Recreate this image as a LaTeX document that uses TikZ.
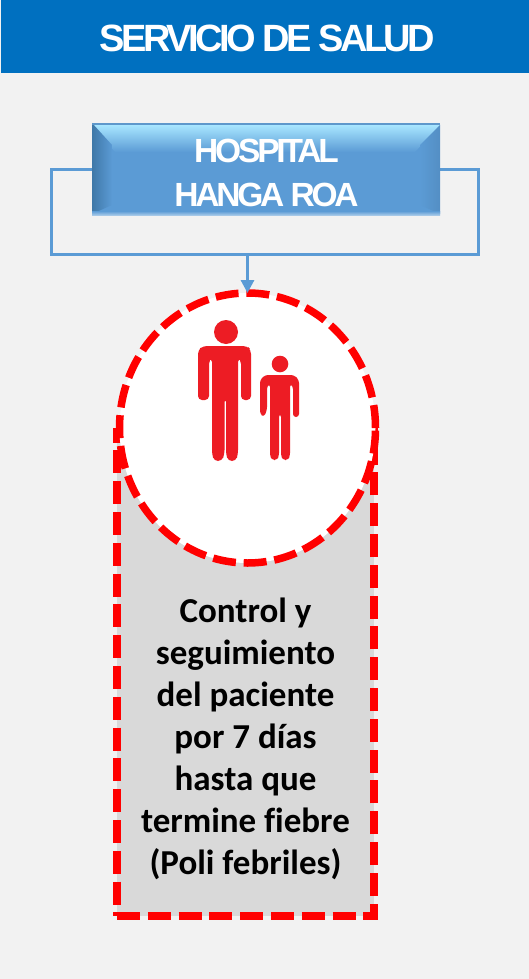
\documentclass[tikz,border=0pt]{standalone}
\usepackage{fontspec}
\setmainfont{Liberation Sans}
\newfontfamily\headfont[LetterSpace=-9.5]{Liberation Sans Bold}
\newfontfamily\bodyfont[Ligatures=NoCommon]{Carlito Bold}
\usetikzlibrary{shapes.geometric,arrows.meta}
\definecolor{pagebg}{HTML}{F2F2F2}
\definecolor{headblue}{HTML}{0070C0}
\definecolor{linkblue}{HTML}{5B9BD5}
\definecolor{bevellight}{HTML}{A8E6FF}
\definecolor{beveldark}{HTML}{3F78A8}
\definecolor{boxgray}{HTML}{D9D9D9}
\definecolor{figred}{HTML}{ED1C24}
\tikzset{
  redline/.style={draw=red,line width=7.5pt,dash pattern=on 23pt off 7.8pt,outer sep=0pt},
  linkline/.style={draw=linkblue,line width=3pt},
  figure/.style={fill=figred,draw=none},
  headtext/.style={text=white,align=center,inner sep=0pt}
}
\begin{document}
\begin{tikzpicture}[x=1pt,y=-1pt]
\useasboundingbox (0,0) rectangle (529,979);
\fill[pagebg] (0,0) rectangle (529,979);
\node[fill=headblue,minimum width=528pt,minimum height=73pt,inner sep=0pt,outer sep=0pt,anchor=north west] (header) at (1,0) {};
\node[headtext,font=\headfont\fontsize{38}{38}\selectfont] (headertext) at (267.5,38) {SERVICIO DE SALUD};

% connector frame
\node[minimum width=348pt,minimum height=91pt,inner sep=0pt,outer sep=0pt] (hosp) at (266,169.5) {};
\coordinate (fl) at (51,254);
\coordinate (fr) at (478.5,254);
\coordinate (fm) at (247.5,254);
\draw[linkline] (hosp.west) -| (fl) -- (fr) |- (hosp.east);

% bevelled box
\fill[linkblue] (92,123) rectangle (440,214);
\shade[top color=bevellight,bottom color=linkblue] (92,125) -- (440,125) -- (415,152) -- (115,152) -- cycle;
\shade[left color=beveldark,right color=linkblue] (92,123) -- (112,145) -- (112,205) -- (92,214) -- cycle;
\shade[left color=linkblue,right color=linkblue!92!black] (420,145) -- (440,125) -- (440,214) -- (420,205) -- cycle;
\shade[top color=linkblue,bottom color=linkblue!55!white] (92,211) rectangle (440,215);
\fill[linkblue!88!gray] (92,123) rectangle (440,125);
\node[headtext,font=\headfont\fontsize{33.5}{44}\selectfont] (hosptext) at (266.5,172.5) {HOSPITAL\\HANGA ROA};

% gray box and circle
\node[fill=boxgray,redline,minimum width=257pt,minimum height=484pt,inner sep=0pt,anchor=north west] (box) at (117,432) {};
\node[ellipse,fill=white,redline,minimum width=256pt,minimum height=270pt,inner sep=0pt] (circ) at (247.5,428) {};
\draw[linkline,-{Triangle[length=13pt,width=13pt]}] (fm) -- (circ.north);

% adult figure
\fill[figure] (226,332) circle (12);
\fill[figure,rounded corners=4pt] (198,400) -- (198,350) -- (203,346) -- (247,346) -- (251,350) -- (251,400) -- (241,400) -- (241,360) -- (238,358) -- (238,454) -- (236,461) -- (228,461) -- (226,454) -- (226,398) -- (224.5,398) -- (224.5,454) -- (222,461) -- (214,461) -- (212,454) -- (212,358) -- (209,360) -- (209,400) -- cycle;
% child figure
\fill[figure] (280,364) circle (8.3);
\fill[figure,rounded corners=3pt] (260,414) -- (260,380) -- (265,375) -- (294,375) -- (299,380) -- (299,417) -- (293,417) -- (293,386) -- (290,384) -- (290,456) -- (288,460) -- (283,460) -- (281,456) -- (281,414) -- (279,414) -- (279,456) -- (277,460) -- (272,460) -- (270,456) -- (270,384) -- (267,386) -- (267,410) -- (264,417) -- cycle;

\node[font=\bodyfont\fontsize{35}{42}\selectfont,text=black,align=center,inner sep=0pt] (label) at (245.5,738.5) {Control y\\seguimiento\\del paciente\\por 7 días\\hasta que\\termine fiebre\\(Poli febriles)};
\end{tikzpicture}
\end{document}
